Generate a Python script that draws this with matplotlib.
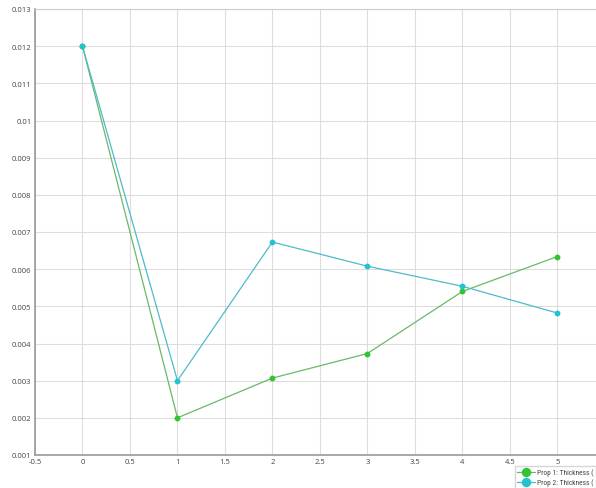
import matplotlib
matplotlib.use("Agg")
import matplotlib.pyplot as plt
from matplotlib.ticker import FuncFormatter, MultipleLocator
import logging
logging.getLogger('matplotlib.font_manager').setLevel(logging.ERROR)

x = [0, 1, 2, 3, 4, 5]
prop1 = [0.012, 0.002, 0.00307, 0.00373, 0.00540, 0.00634]
prop2 = [0.012, 0.003, 0.00673, 0.00608, 0.00554, 0.00482]
labels = ["Prop 1: Thickness (", "Prop 2: Thickness ("]
colors = ["#33c433", "#22c3d0"]
line_colors = ["#6ab86a", "#4cbcc8"]

plt.rcParams['font.family'] = ['Open Sans', 'DejaVu Sans']
fig = plt.figure(figsize=(5.96, 4.89), dpi=100)
ax = fig.add_axes([35/596, 1 - 456/489, 1 - 35/596 + 0.01, 446/489])

for ys, c, lc, lab in zip([prop1, prop2], colors, line_colors, labels):
    ax.plot(x, ys, color=lc, lw=0.9, marker='o', ms=3.2, mfc=c, mec=c, label=lab)

ax.set_xlim(-0.5, 5.47)
ax.set_ylim(0.001, 0.013)
ax.xaxis.set_major_locator(MultipleLocator(0.5))
ax.yaxis.set_major_locator(MultipleLocator(0.001))
ax.xaxis.set_major_formatter(FuncFormatter(lambda v, p: f"{v:g}"))
ax.yaxis.set_major_formatter(FuncFormatter(lambda v, p: f"{round(v, 4):g}"))
ax.grid(True, color="#dddddd", lw=0.8)
ax.set_axisbelow(True)
ax.tick_params(labelsize=5.5, colors="#444444", length=0, pad=2.5)
for s in ["left", "bottom"]:
    ax.spines[s].set_color("#999999")
    ax.spines[s].set_linewidth(1.2)
ax.spines["top"].set_color("#cccccc")
ax.spines["right"].set_visible(False)

leg = fig.legend(loc="upper left", bbox_to_anchor=(515/596, 1 - 467/489),
                 prop={'family': ['Liberation Sans Narrow', 'Roboto Condensed', 'Roboto'], 'size': 5.3},
                 frameon=True, fancybox=False, edgecolor="#cccccc",
                 handlelength=2.4, borderpad=0.3, labelspacing=0.3, handletextpad=0.3,
                 borderaxespad=0, markerscale=1.8)
for t in leg.get_texts():
    t.set_color("#444444")

fig.savefig("out.png", dpi=100)
